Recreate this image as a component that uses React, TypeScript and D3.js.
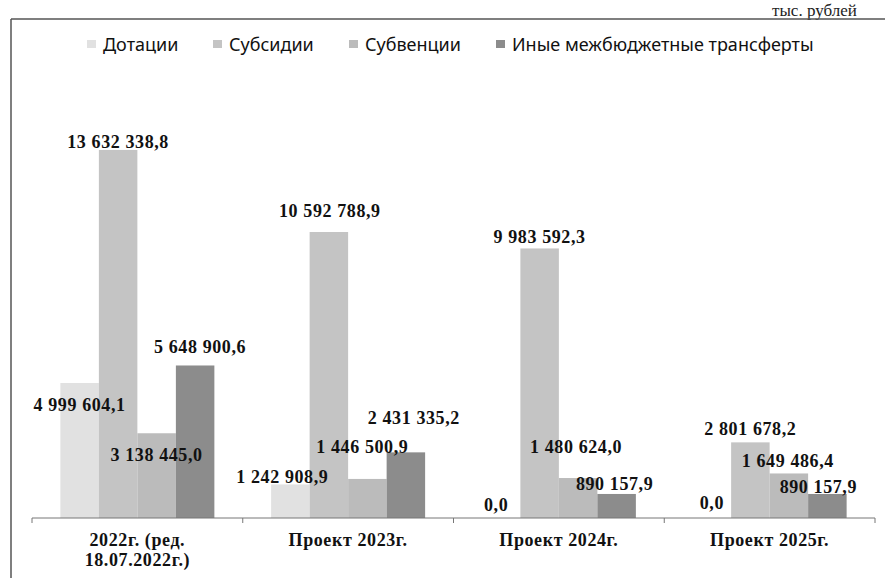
import React from "react";
import * as d3 from "d3";

const categories: string[][] = [
  ["2022г. (ред.", "18.07.2022г.)"],
  ["Проект 2023г."],
  ["Проект 2024г."],
  ["Проект 2025г."],
];
const seriesNames = ["Дотации", "Субсидии", "Субвенции", "Иные межбюджетные трансферты"];
const dotations = [4999604.1, 1242908.9, 0.0, 0.0];
const subsidies = [13632338.8, 10592788.9, 9983592.3, 2801678.2];
const subventions = [3138445.0, 1446500.9, 1480624.0, 1649486.4];
const otherTransfers = [5648900.6, 2431335.2, 890157.9, 890157.9];
const unitText = "тыс. рублей";

// styling / layout (kept separate from the data)
const colors = ["#e1e1e1", "#c4c4c4", "#bbbbbb", "#8c8c8c"];
// label nudges relative to bar top-centre [dx, dy], per category per series
const labelNudges: [number, number][][] = [
  [[0, 22], [0, -8], [0, 22], [5, -18]],
  [[-8, -7], [1, -21], [-5, -32], [8, -34]],
  [[-5, -13], [0, -11], [-2, -31], [-2, -10]],
  [[0, -15], [0, -13], [-1, -12], [-9, -7]],
];
const legendX = [87, 213, 349, 496];

const W = 885;
const H = 578;
const axisY = 518;
const plotLeft = 32;
const plotRight = 875;
const groupWidth = 154;

const fmt = d3.formatLocale({
  decimal: ",",
  thousands: " ",
  grouping: [3],
  currency: ["", ""],
}).format(",.1f");

export default function App() {
  const seriesValues = [dotations, subsidies, subventions, otherTransfers];
  const x0 = d3
    .scaleBand<number>()
    .domain(categories.map((_, i) => i))
    .range([plotLeft, plotRight])
    .paddingInner(0)
    .paddingOuter(0);
  const x1 = d3
    .scaleBand<number>()
    .domain(seriesNames.map((_, i) => i))
    .range([0, groupWidth]);
  const y = d3.scaleLinear().domain([0, 14000000]).range([axisY, axisY - 14 * 27.0]);
  const groupOffset = (x0.bandwidth() - groupWidth) / 2;

  const serif = "'Liberation Serif', 'Times New Roman', serif";
  const sans = "'Noto Sans', 'Open Sans', sans-serif";

  const ticks = d3.range(categories.length + 1).map((i) =>
    i < categories.length ? (x0(i) as number) : plotRight
  );

  return (
    <svg
      width={W}
      height={H}
      viewBox={`0 0 ${W} ${H}`}
      style={{ position: "absolute", left: 0, top: 0, background: "#fff" }}
    >
      <rect x={0} y={0} width={W} height={H} fill="#ffffff" />
      {/* unit text */}
      <text x={772} y={16} fontFamily={serif} fontSize={17} fill="#222">
        {unitText}
      </text>
      {/* frame */}
      <line x1={11} y1={19} x2={W} y2={19} stroke="#555" strokeWidth={1.5} />
      <line x1={11} y1={19} x2={11} y2={H} stroke="#555" strokeWidth={1.5} />

      {/* legend */}
      {seriesNames.map((name, i) => (
        <g key={name}>
          <rect x={legendX[i]} y={40} width={9} height={8} fill={colors[i]} />
          <text
            x={legendX[i] + 16}
            y={51}
            fontFamily={sans}
            fontSize={18}
            fill="#111"
          >
            {name}
          </text>
        </g>
      ))}

      {/* bars */}
      {categories.map((_, ci) => (
        <g key={ci} transform={`translate(${(x0(ci) as number) + groupOffset},0)`}>
          {seriesValues.map((vals, si) => {
            const v = vals[ci];
            const bx = x1(si) as number;
            const by = y(v);
            return (
              <rect
                key={si}
                x={bx}
                y={by}
                width={x1.bandwidth()}
                height={axisY - by}
                fill={colors[si]}
              />
            );
          })}
        </g>
      ))}

      {/* axis */}
      <line x1={plotLeft} y1={axisY} x2={plotRight} y2={axisY} stroke="#777" strokeWidth={1} />
      {ticks.map((tx, i) => (
        <line key={i} x1={tx} y1={axisY} x2={tx} y2={axisY + 5} stroke="#777" strokeWidth={1} />
      ))}

      {/* data labels */}
      {categories.map((_, ci) =>
        seriesValues.map((vals, si) => {
          const v = vals[ci];
          const cx = (x0(ci) as number) + groupOffset + (x1(si) as number) + x1.bandwidth() / 2;
          const [dx, dy] = labelNudges[ci][si];
          return (
            <text
              key={`${ci}-${si}`}
              x={cx + dx}
              y={y(v) + dy}
              textAnchor="middle"
              dominantBaseline="central"
              fontFamily={serif}
              fontWeight="bold"
              fontSize={18}
              letterSpacing={0.6}
              fill="#111"
            >
              {fmt(v)}
            </text>
          );
        })
      )}

      {/* category labels */}
      {categories.map((lines, ci) => (
        <text
          key={ci}
          x={(x0(ci) as number) + x0.bandwidth() / 2}
          y={540}
          textAnchor="middle"
          dominantBaseline="central"
          fontFamily={serif}
          fontWeight="bold"
          fontSize={18}
          letterSpacing={0.6}
          fill="#111"
        >
          {lines.map((l, li) => (
            <tspan key={li} x={(x0(ci) as number) + x0.bandwidth() / 2} dy={li === 0 ? 0 : 20}>
              {l}
            </tspan>
          ))}
        </text>
      ))}
    </svg>
  );
}
